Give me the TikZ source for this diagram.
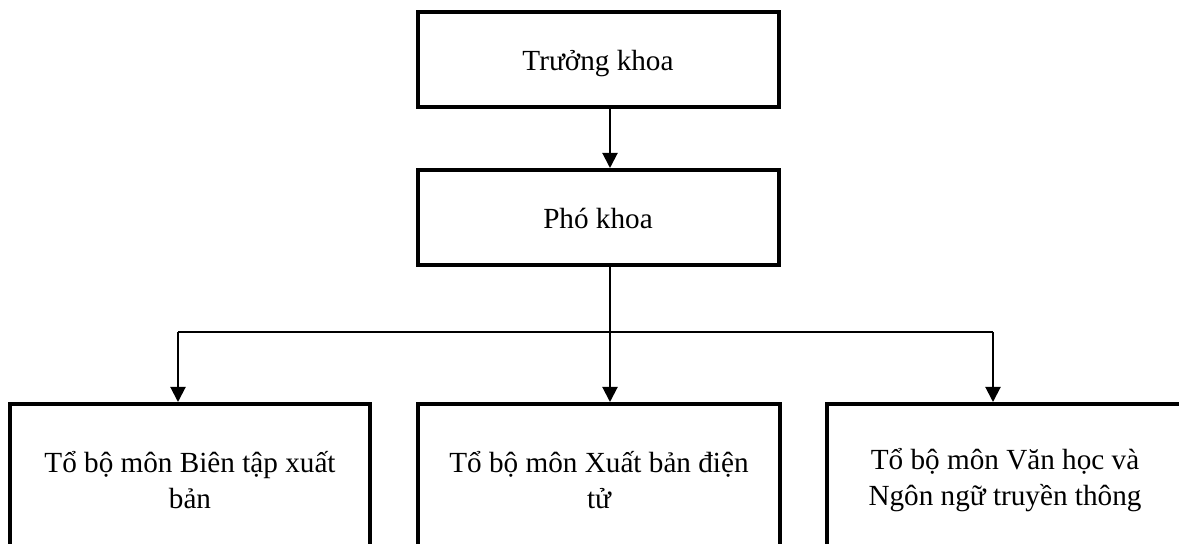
\documentclass[tikz,border=0pt]{standalone}
\usepackage{fontspec}
\setmainfont{Liberation Serif}
\usetikzlibrary{arrows.meta,positioning}
\tikzset{
  orgbox/.style={draw=black, fill=white, line width=2pt, align=center,
        minimum width=180.5pt, minimum height=47.5pt, inner sep=0pt,
        text height=13.5pt, text depth=2.5pt,
        font=\fontsize{14.6}{18}\selectfont},
  unitbox/.style={draw=black, fill=white, line width=2pt, align=center,
        minimum height=76pt, inner sep=0pt,
        font=\fontsize{14.6}{18}\selectfont},
  arr/.style={-{Triangle[length=7.5pt,width=7.5pt]}, line width=1pt, draw=black},
  bus/.style={line width=0.75pt, draw=black}
}
\begin{document}
\begin{tikzpicture}[x=0.5pt, y=-0.5pt]
\useasboundingbox (0,0) rectangle (1179,544);
\node[orgbox] (truong) at (598,60)    {Trưởng khoa};
\node[orgbox] (pho)    at (598,217.5) {Phó khoa};

\node[unitbox, minimum width=180pt] (bientap) at (190,480)  {Tổ bộ môn Biên tập xuất\\ bản};
\node[unitbox, minimum width=181pt] (dientu)  at (599,480)  {Tổ bộ môn Xuất bản điện\\ tử};
\node[unitbox, minimum width=178pt] (vanhoc)  at (1005,480) {Tổ bộ môn Văn học và\\ Ngôn ngữ truyền thông};

\coordinate (trunk) at (610,332);
\coordinate (jl) at (178,332);
\coordinate (jr) at (993,332);

\draw[arr] (trunk |- truong.south) -- (trunk |- pho.north);
\draw[bus] (trunk |- pho.south) -- (trunk);
\draw[bus] (jl) -- (jr);
\draw[arr] (jl) -- (jl |- bientap.north);
\draw[arr] (trunk) -- (trunk |- dientu.north);
\draw[arr] (jr) -- (jr |- vanhoc.north);
\end{tikzpicture}
\end{document}
